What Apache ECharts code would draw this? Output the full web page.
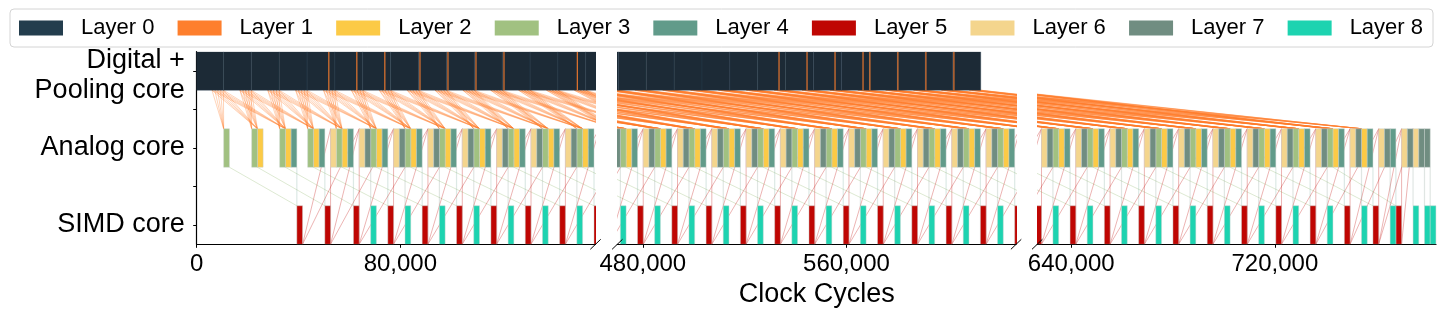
<!DOCTYPE html>
<html><head><meta charset="utf-8">
<script src="https://cdn.jsdelivr.net/npm/echarts@6/dist/echarts.min.js"></script>
<style>html,body{margin:0;padding:0;background:#fff}#c{width:1446px;height:315px}</style>
</head><body><div id="c"></div>
<script>
// ---------------- data ----------------
const layerNames = ['Layer 0','Layer 1','Layer 2','Layer 3','Layer 4','Layer 5','Layer 6','Layer 7','Layer 8'];
const layerColors = ['#233D4D','#FE7F2D','#FCCA46','#A1C181','#619B8A','#BF0603','#F4D58D','#708D81','#1DD3B0'];
const coreNames = ['SIMD core', '', 'Analog core', '', 'Digital +\nPooling core'];
const coreOfLayer = [4, 4, 2, 2, 2, 0, 2, 2, 0];          // row of each layer on the y axis
const xRanges = [[0, 156660], [469980, 626640], [626640, 783300]];
const xTickValues = [[0, 80000], [480000, 560000], [640000, 720000]];

// duration of one analog / SIMD job (cycles)
const slotCycles = 2245;
// digital core: end of each pooled row (cycles)
const digitalStart = 0;
const poolRowEnd = [10500,21450,32400,43350,54300,65250,76200,87150,98100,109050,120000,130950,141900,152850,
  163800,174750,185700,196650,207600,218550,229500,240450,251400,262350,273300,284250,295200,306150,317100,
  328050,339000,349950,360900,371850,382800,393750,404700,415650,426600,437550,448500,459450,470400,481350,
  492300,503250,514200,525150,536100,547050,558000,568950,579900,590850,601800,612750];
// spread of pooled outputs inside one row (cycles before row end)
const poolPieceOffsets = [4500, 3400, 2300, 1150, 0];
// visible pooling (Layer 1) slivers in the digital bar
const layer1Marks = [51700,62700,73700,87500,98500,109500,120500,149300,533300,544300,555300,566300,569000,580000,591000,602000];
const layer1MarkCycles = 420;

// analog core: start of each job group (cycles) and the layers run in it, in order
const analogGroupStart = [10600,21600,32600,43600,52600,63850,77350,90850,104350,117850,131350,144850,
  158260,171670,185080,198490,211900,225310,238720,252130,265540,278950,292360,305770,319180,332590,346000,
  359410,372820,386230,399640,413050,426460,439870,453280,
  466700,480170,493640,507110,520580,534050,547510,560980,574450,587920,601390,614860,
  628330,641800,655270,668740,682210,695680,709150,722620,736080,749550,760800,769800];
const analogGroupLayers = ['3','32','324','324','6324',
  '67324','67324','67324','67324','67324','67324','67324','67324','67324','67324',
  '67324','67324','67324','67324','67324','67324','67324','67324','67324','67324',
  '67324','67324','67324','67324','67324','67324','67324','67324','67324','67324',
  '67324','67324','67324','67324','67324','67324','67324','67324','67324','67324',
  '67324','67324','67324','67324','67324','67324','67324','67324','67324','67324','67324',
  '6724','674','67677'];
// SIMD job that directly follows an analog layer
const simdAfter = {4: 5, 7: 8};
// data dependencies: destination row i reads source rows i+k
const edgeRules = [
  {from: 1, to: 3, rows: [0]},
  {from: 1, to: 2, rows: [-1, 0, 1]},
  {from: 5, to: 6, rows: [-1, 0, 1]},
  {from: 3, to: 5, rows: [0]},
  {from: 4, to: 5, rows: [0]},
  {from: 7, to: 8, rows: [0]}
];

// ---------------- build tables ----------------
const rows = layerNames.map(() => []);
analogGroupStart.forEach((g, gi) => {
  let t = g;
  for (const ch of analogGroupLayers[gi]) {
    const L = +ch;
    rows[L].push([t, t + slotCycles]);
    if (simdAfter[L] !== undefined) rows[simdAfter[L]].push([t + slotCycles, t + 2 * slotCycles]);
    t += slotCycles;
  }
});
const digitalPieces = [];
let prev = digitalStart;
poolRowEnd.forEach(e => { digitalPieces.push([prev, e]); prev = e; });
const barData = layerNames.map((n, L) => {
  if (L === 0) return digitalPieces.map(([s, e]) => [s, e, coreOfLayer[0]]);
  if (L === 1) return layer1Marks.map(m => [m, m + layer1MarkCycles, coreOfLayer[1]]);
  return rows[L].map(([s, e]) => [s, e, coreOfLayer[L]]);
});

const edgeStyle = {
  1: {stroke: 'rgba(254,127,45,0.42)', w: 0.8},
  5: {stroke: 'rgba(191,6,3,0.38)', w: 0.8},
  3: {stroke: 'rgba(161,193,129,0.45)', w: 0.8},
  4: {stroke: 'rgba(97,155,138,0.22)', w: 1.2},
  7: {stroke: 'rgba(112,141,129,0.22)', w: 1.2}
};
const edgeData = {};
edgeRules.forEach(rule => {
  const list = edgeData[rule.from] || (edgeData[rule.from] = []);
  const nDst = rows[rule.to].length;
  for (let i = 0; i < nDst; i++) {
    const dx = rows[rule.to][i][0];
    const dy = coreOfLayer[rule.to] + 0.5;
    rule.rows.forEach(k => {
      const r = i + k;
      if (rule.from === 1) {
        if (r < 0 || r >= poolRowEnd.length) return;
        poolPieceOffsets.forEach(o => list.push([poolRowEnd[r] - o, coreOfLayer[1] - 0.5, dx, dy]));
      } else {
        if (r < 0 || r >= rows[rule.from].length) return;
        list.push([rows[rule.from][r][1], coreOfLayer[rule.from] - 0.5, dx, dy]);
      }
    });
  }
});

// ---------------- chart ----------------
const FONT = '"Liberation Sans", Arial, Helvetica, sans-serif';
const gridPos = [196.7, 617.3, 1037.2];
const gridW = 398.8, gridTop = 51.7, gridH = 192.6;

function barRender(params, api) {
  const s = api.value(0), e = api.value(1), y = api.value(2);
  const p0 = api.coord([s, y + 0.5]);
  const p1 = api.coord([e, y - 0.5]);
  let style;
  if (params.seriesName === 'Layer 0') style = {fill: '#1c2a36', stroke: 'rgba(44,66,82,0.7)', lineWidth: 0.5};
  else if (params.seriesName === 'Layer 1') style = {fill: api.visual('color')};
  else style = {fill: api.visual('color'), stroke: 'rgba(200,210,205,0.55)', lineWidth: 0.8};
  return {type: 'rect', shape: {x: p0[0], y: p0[1], width: p1[0] - p0[0], height: p1[1] - p0[1]}, style};
}
function lineRender(params, api) {
  const a = api.coord([api.value(0), api.value(1)]);
  const b = api.coord([api.value(2), api.value(3)]);
  const st = edgeStyle[params.seriesName.split('-')[1]];
  return {type: 'line', shape: {x1: a[0], y1: a[1], x2: b[0], y2: b[1]},
          style: {stroke: st.stroke, lineWidth: st.w}};
}

const grids = [], xAxes = [], yAxes = [], series = [];
for (let p = 0; p < 3; p++) {
  grids.push({left: gridPos[p], top: gridTop, width: gridW, height: gridH});
  xAxes.push({
    type: 'value', gridIndex: p, min: xRanges[p][0], max: xRanges[p][1],
    axisLine: {show: true, onZero: false, lineStyle: {color: '#000', width: 1.2}},
    axisTick: {show: true, customValues: xTickValues[p], length: 3.5, lineStyle: {color: '#000', width: 1}},
    axisLabel: {customValues: xTickValues[p], margin: 8, fontSize: 24, color: '#000', fontFamily: FONT,
                formatter: v => v.toLocaleString('en-US')},
    splitLine: {show: false},
    name: p === 1 ? 'Clock Cycles' : '', nameLocation: 'middle', nameGap: 32,
    nameTextStyle: {fontSize: 27, color: '#000', fontFamily: FONT}
  });
  yAxes.push({
    type: 'value', gridIndex: p, min: -0.5, max: 4.5, show: p === 0,
    axisLine: {show: true, onZero: false, lineStyle: {color: '#000', width: 1.2}},
    axisTick: {show: true, customValues: [0, 1, 2, 3, 4], length: 3.5, lineStyle: {color: '#000', width: 1}},
    axisLabel: {customValues: [0, 2, 4], margin: 12, color: '#000', fontFamily: FONT, fontSize: 27,
                formatter: v => { const t = coreNames[Math.round(v)]; return t.indexOf('\n') >= 0 ? '{two|' + t + '}' : t; },
                rich: {two: {fontSize: 27, lineHeight: 29.5, fontFamily: FONT, color: '#000', padding: [9, 0, 0, 0], align: 'right'}}},
    splitLine: {show: false}
  });
  Object.keys(edgeData).forEach(k => {
    series.push({type: 'custom', name: 'edge-' + k, xAxisIndex: p, yAxisIndex: p, clip: true, silent: true, z: 1,
      renderItem: lineRender, data: edgeData[k], animation: false});
  });
  for (let L = 0; L < 9; L++) {
    series.push({type: 'custom', name: layerNames[L], xAxisIndex: p, yAxisIndex: p, clip: true, z: 3,
      itemStyle: {color: layerColors[L]}, renderItem: barRender, data: barData[L], animation: false,
      encode: {x: [0, 1], y: 2}});
  }
}

const breakX = [595.5, 617.3, 1016.1, 1037.2];
const axisY = gridTop + gridH;
const graphics = breakX.map(x => ({type: 'line', silent: true, z: 100,
  shape: {x1: x - 5.2, y1: axisY + 5, x2: x + 5.2, y2: axisY - 5}, style: {stroke: '#000', lineWidth: 1}}));

const chart = echarts.init(document.getElementById('c'), null, {renderer: 'canvas', width: 1446, height: 315});
chart.setOption({
  animation: false,
  backgroundColor: '#fff',
  legend: {
    data: layerNames, icon: 'rect', itemWidth: 44, itemHeight: 15, itemGap: 23.2,
    left: 10, top: 9, padding: [8, 10, 8, 9],
    borderColor: '#d4d4d4', borderWidth: 1, borderRadius: 4, backgroundColor: '#fff',
    textStyle: {fontSize: 22, color: '#000', fontFamily: FONT, padding: [0, 0, 0, 13]},
    itemStyle: {borderWidth: 0}, selectedMode: false
  },
  grid: grids, xAxis: xAxes, yAxis: yAxes, series: series,
  graphic: graphics
});
</script></body></html>
